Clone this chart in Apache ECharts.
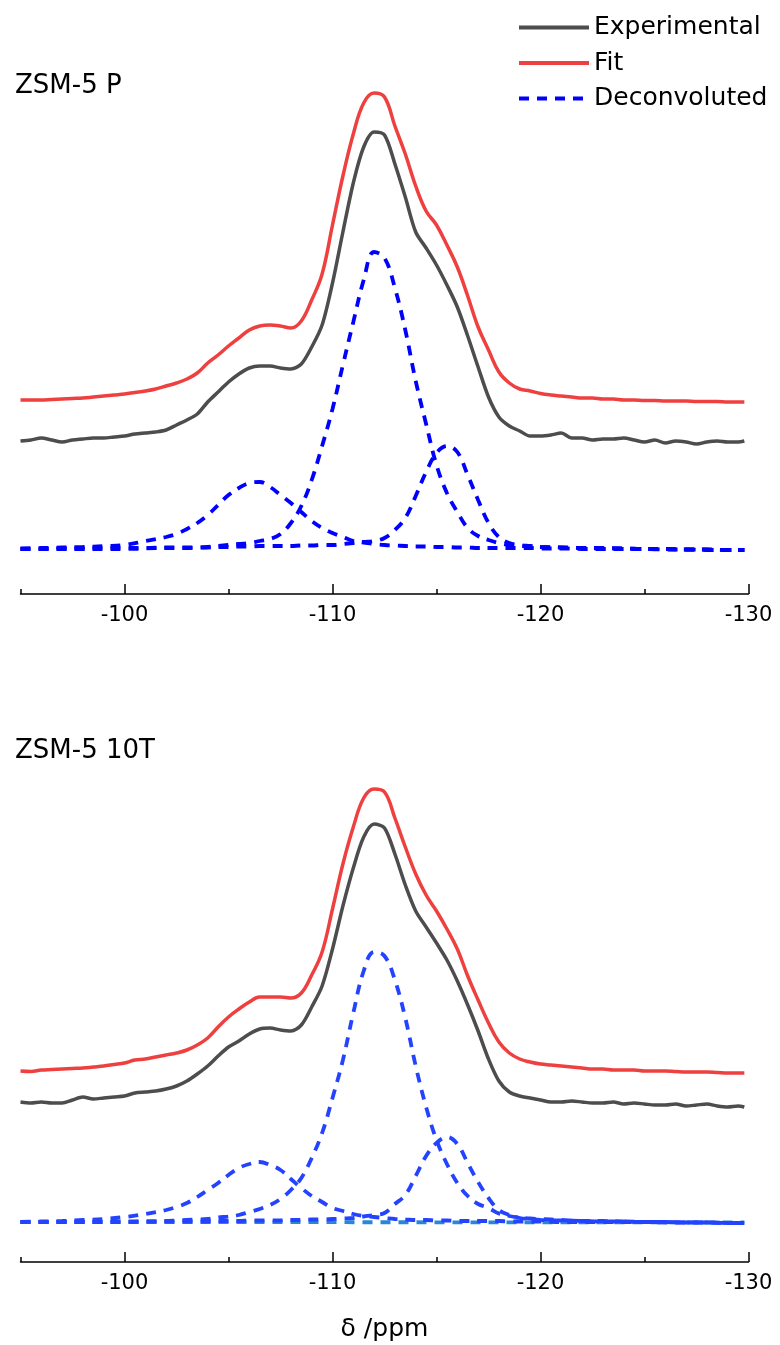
<!DOCTYPE html>
<html>
<head>
<meta charset="utf-8">
<script src="https://cdn.jsdelivr.net/npm/echarts@6/dist/echarts.min.js"></script>
<style>html,body{margin:0;padding:0;background:#fff}#c{width:780px;height:1345px}</style>
</head>
<body>
<div id="c"></div>
<script>
// ---- data (chemical shift in ppm, intensity in arbitrary units) ----
const panelTitles = ['ZSM-5 P', 'ZSM-5 10T'];
const seriesNames = ['Experimental', 'Fit', 'Deconvoluted'];
const majorTicks = [-130, -120, -110, -100];
const minorTicks = [-125, -115, -105, -95];

const ppmMain = [-95,-95.5,-96,-96.5,-97,-97.5,-98,-98.5,-99,-99.5,-100,-100.5,-101,-101.5,-102,-102.5,-103,-103.5,-104,-104.5,-105,-105.5,-106,-106.5,-107,-107.5,-108,-108.5,-109,-109.5,-110,-110.5,-111,-111.5,-112,-112.5,-113,-113.5,-114,-114.5,-115,-115.5,-116,-116.5,-117,-117.5,-118,-118.5,-119,-119.5,-120,-120.5,-121,-121.5,-122,-122.5,-123,-123.5,-124,-124.5,-125,-125.5,-126,-126.5,-127,-127.5,-128,-128.5,-129,-129.5,-129.8];

const expP = [108,109,111,109,107,109,110,111,111,112,113,115,116,117,119,124,129,135,147,157,167,175,181,183,183,181,180,185,202,224,266,317,366,402,417,414,385,352,317,301,284,264,242,213,182,152,132,123,118,113,113,114,116,111,111,109,110,110,111,109,107,109,106,108,107,105,107,108,107,107,108];
const fitP = [149,149,149,149.5,150,150.5,151,152,153,154,155,156.5,158,160,163,166,170,176,186,194,203,211,219,223,224,223,221,228,249,275,324,373,415,446,456,452,423,395,363,338,324,304,282,253,222,199,177,166,160,158,155.5,154,153,152,151,151,150,150,149,149,148.5,148.5,148,148,148,147.5,147.5,147.5,147,147,147];

const exp10T = [120,119,120,119,119,122,125,123,124,125,126,129,130,131,133,136,141,148,156,166,175,181,188,193,194,192,191,197,215,236,273,316,354,385,398,394,368,337,311,295,279,262,241,217,191,163,141,130,126,124,122,120,120,121,120,119,119,120,118,119,118,117,117,118,116,117,118,116,115,116,115];
const fit10T = [151,150.5,152,152.5,153,153.5,154,155,156,157.5,159,162,163,165,167,169,172,177,184,195,205,213,220,225,225,225,224,229,247,270,313,358,395,424,433,430,404,375,348,327,311,293,273,246,222,199,180,169,163,160,158,157,156,155,154,153,153,152,152,152,151,151,151,150.5,150,150,150,149.5,149,149,149];

const ppmComp = [-95,-96,-97,-98,-99,-100,-101,-102,-102.5,-103,-103.5,-104,-104.5,-105,-105.5,-106,-106.5,-107,-107.5,-108,-108.5,-109,-109.5,-110,-110.5,-111,-111.5,-112,-112.5,-113,-113.5,-114,-114.5,-115,-115.5,-116,-116.5,-117,-117.5,-118,-118.5,-119,-119.5,-120,-121,-122,-123,-124,-125,-126,-127,-128,-129,-129.8];

const peakA_P = [0.5,1,1.5,2,3,4,8,12,15,20,26,34,44,54,61,66,67,62,54,46,37,28,21,16,12,8,6.5,5,4,3.5,3,2.5,2.5,2,2,1.5,1.5,1,1,1,1,1,1,0.5,0.5,0,0,0,0,-0.5,-0.5,-1,-1,-1];
const peakB_P = [0,0,0,0,0,0,0.5,1,1,1,1.5,2,3,4,5,6,8,10,15,26,43,69,103,140,184,227,269,297,291,261,219,168,125,84,56,37,21,13,9,6,4,3,2.5,2,1.5,1,1,0.5,0,0,-0.5,-0.5,-1,-1];
const peakC_P = [0,0,0.5,0.5,1,1,1,1.5,1.5,1.5,1.5,1.5,2,2,2.5,2.5,3,3,3,3,3.5,3.5,4,4,5,6,7,8,11,19,31,53,77,96,103,97,74,49,26,12,6,4,3,2,1.5,1,0.5,0.5,0,0,-0.5,-0.5,-1,-1];

const peakA_10T = [0,0.5,1,2,3,5,8,12,15,19,25,32,39,47,54,58,60,57,52,43,34,26,20,14,11,8,6,5,4,3,2.5,2,2,1.5,1.5,1,1,1,1,1,0.5,0.5,0.5,0.5,0,0,0,0,0,-0.5,-0.5,-0.5,-1,-1];
const peakB_10T = [0,0,0,0,0,0,0.5,1,1.5,2,2.5,3,4.5,5.5,7,10,13,17,23,32,44,64,89,124,162,209,251,270,266,242,204,156,115,82,58,39,26,18,14,8.5,6,4.5,3.5,3,2,1,1,0.5,0,0,-0.5,-0.5,-1,-1];
const peakC_10T = [0,0,0,0,0,0.5,0.5,0.5,0.5,0.5,0.5,0.5,1,1,1,1.5,1.5,1.5,1.5,2,2,2.5,2.5,3,3.5,4,5.5,7,9,18,27,46,66,79,85,78,59,40,24,12,7,4,3,2,1.5,1,0.5,0.5,0,0,-0.5,-0.5,-1,-1];
const baseline10TPpm = [-95, -129.8];
const baseline10T = [0, -0.5];

// ---- build ----
function pairs(xs, ys) { return xs.map((x, i) => [x, ys[i]]); }

const FONT = 'DejaVu Sans';
const grayC = '#4d4d4d', redC = '#ef4040', blueP = '#0000ff', blue10T = '#2443ff', teal10T = '#2a86d6';

function lineSeries(name, data, idx, color, dashed, smooth, z) {
  return {
    name: name, type: 'line', xAxisIndex: idx * 2, yAxisIndex: idx,
    data: data, symbol: 'none', smooth: smooth, z: z || 2,
    lineStyle: { color: color, width: dashed ? 3.8 : 3.5, type: dashed ? [10, 8] : 'solid', cap: 'butt' },
    itemStyle: { color: color }, emphasis: { disabled: true }, silent: true
  };
}

const grids = [
  { left: 20.5, right: 31.5, top: 60, bottom: 751 },
  { left: 20.5, right: 31.5, top: 728, bottom: 83 }
];
const yRanges = [[-45, 489], [-40, 494]];

const xAxes = [];
const yAxes = [];
[0, 1].forEach(i => {
  xAxes.push({
    type: 'value', gridIndex: i, min: -130, max: -95, inverse: true, position: 'bottom',
    axisLine: { show: true, onZero: false, lineStyle: { color: '#000', width: 1.5 } },
    axisTick: { show: true, inside: true, length: 10, customValues: majorTicks, lineStyle: { color: '#000', width: 1.5 } },
    axisLabel: { show: true, customValues: majorTicks, margin: 11, color: '#000', fontFamily: FONT, fontSize: 21 },
    splitLine: { show: false },
    name: i === 1 ? '\u03b4 /ppm' : '', nameLocation: 'middle', nameGap: 55,
    nameTextStyle: { color: '#000', fontFamily: FONT, fontSize: 25 }
  });
  xAxes.push({
    type: 'value', gridIndex: i, min: -130, max: -95, inverse: true, position: 'bottom',
    axisLine: { show: false, onZero: false },
    axisTick: { show: true, inside: true, length: 5, customValues: minorTicks, lineStyle: { color: '#000', width: 1.5 } },
    axisLabel: { show: false }, splitLine: { show: false }
  });
  yAxes.push({ type: 'value', gridIndex: i, min: yRanges[i][0], max: yRanges[i][1], show: false, splitLine: { show: false } });
});

const series = [
  lineSeries(seriesNames[0], pairs(ppmMain, expP), 0, grayC, false, 0.3, 4),
  lineSeries(seriesNames[1], pairs(ppmMain, fitP), 0, redC, false, 0.4, 4),
  lineSeries(seriesNames[2], pairs(ppmComp, peakA_P), 0, blueP, true, 0.4, 3),
  lineSeries(seriesNames[2], pairs(ppmComp, peakB_P), 0, blueP, true, 0.4, 3),
  lineSeries(seriesNames[2], pairs(ppmComp, peakC_P), 0, blueP, true, 0.4, 3),
  lineSeries(seriesNames[0], pairs(ppmMain, exp10T), 1, grayC, false, 0.3, 4),
  lineSeries(seriesNames[1], pairs(ppmMain, fit10T), 1, redC, false, 0.4, 4),
  lineSeries(seriesNames[2], pairs(baseline10TPpm, baseline10T), 1, teal10T, true, false, 3),
  lineSeries(seriesNames[2], pairs(ppmComp, peakA_10T), 1, blue10T, true, 0.4, 3),
  lineSeries(seriesNames[2], pairs(ppmComp, peakB_10T), 1, blue10T, true, 0.4, 3),
  lineSeries(seriesNames[2], pairs(ppmComp, peakC_10T), 1, blue10T, true, 0.4, 3)
];

const chart = echarts.init(document.getElementById('c'), null, { renderer: 'canvas' });
chart.setOption({
  animation: false,
  backgroundColor: '#fff',
  grid: grids,
  xAxis: xAxes,
  yAxis: yAxes,
  legend: {
    data: seriesNames, orient: 'vertical', left: 517, top: 15, padding: 0,
    itemWidth: 70, itemHeight: 14, itemGap: 10.5, selectedMode: false,
    itemStyle: { opacity: 0 },
    lineStyle: { width: 4 },
    textStyle: { color: '#000', fontFamily: FONT, fontSize: 25 }
  },
  graphic: [
    { type: 'text', left: 15, top: 73, style: { text: panelTitles[0], fill: '#000', font: '26px "DejaVu Sans"' } },
    { type: 'text', left: 15, top: 738, style: { text: panelTitles[1], fill: '#000', font: '26px "DejaVu Sans"' } }
  ],
  series: series
});
</script>
</body>
</html>
